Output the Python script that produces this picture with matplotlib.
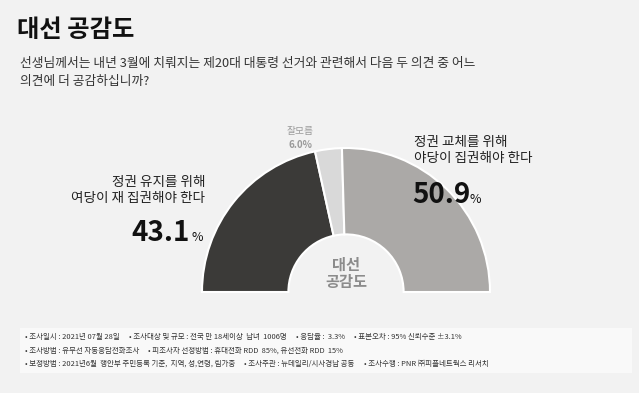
import matplotlib
matplotlib.use("Agg")
import matplotlib.pyplot as plt
from matplotlib.patches import Rectangle

plt.rcParams['font.family'] = ['Noto Sans CJK KR', 'DejaVu Sans']

# data
labels = ['여당 재집권', '잘모름', '야당 집권']
values = [43.1, 6.0, 50.9]
colors_ = ['#3b3a38', '#d9d9d9', '#aba9a7']

title = '대선 공감도'
question = ['선생님께서는 내년 3월에 치뤄지는 제20대 대통령 선거와 관련해서 다음 두 의견 중 어느',
            '의견에 더 공감하십니까?']
left_label = ['정권 유지를 위해', '여당이 재 집권해야 한다']
right_label = ['정권 교체를 위해', '야당이 집권해야 한다']
footer = [
    ['• 조사일시 : 2021년 07월 28일', '• 조사대상 및 규모 : 전국 만 18세이상  남녀  1006명',
     '• 응답율 :  3.3%', '• 표본오차 : 95% 신뢰수준 ±3.1%'],
    ['• 조사방법 : 유무선 자동응답전화조사', '• 피조사자 선정방법 : 휴대전화 RDD  85%, 유선전화 RDD  15%'],
    ['• 보정방법 : 2021년6월  행안부 주민등록 기준,  지역, 성,연령, 림가중',
     '• 조사주관 : 뉴데일리/시사경남 공동', '• 조사수행 : PNR ㈜피플네트웍스 리서치'],
]

W, H = 639, 393
bg = '#f2f2f2'


def P(x, y):
    return x / W, 1 - y / H


fig = plt.figure(figsize=(W / 100, H / 100), dpi=100, facecolor=bg)

# half donut: centre (346, 292), radius 144 px
cx, cy, r = 346, 292, 144
ax = fig.add_axes([(cx - r) / W, (H - cy) / H, 2 * r / W, r / H])
ax.set_facecolor(bg)
total = sum(values)
wedges, _ = ax.pie(values + [total], colors=colors_ + ['none'], startangle=180, counterclock=False,
                   radius=1, wedgeprops=dict(width=0.6, edgecolor='white', linewidth=1.5))
wedges[-1].set_visible(False)
ax.set_xlim(-1, 1)
ax.set_ylim(0, 1)
ax.set_aspect('equal')
ax.axis('off')

# title and question
fig.text(*P(17, 30), title, fontsize=17.5, fontweight='bold', color='#111111', va='center')
fig.text(*P(20, 64), question[0], fontsize=9.2, color='#333333', va='center')
fig.text(*P(20, 82), question[1], fontsize=9.2, color='#333333', va='center')

# labels
fig.text(*P(300, 131), labels[1].replace(' ', ''), fontsize=7, color='#9a9a9a', ha='center', va='center')
fig.text(*P(300, 145), f'{values[1]:.1f}%', fontsize=7, color='#9a9a9a', ha='center', va='center',
         fontweight='bold')

fig.text(*P(414, 142), right_label[0], fontsize=9.8, color='#222222', va='center')
fig.text(*P(414, 158), right_label[1], fontsize=9.8, color='#222222', va='center')
fig.text(*P(412, 203), f'{values[2]:.1f}', fontsize=20, fontweight='bold', color='#111111', va='baseline')
fig.text(*P(470, 203), '%', fontsize=9, color='#111111', va='baseline')

fig.text(*P(205, 182), left_label[0], fontsize=9.8, color='#222222', ha='right', va='center')
fig.text(*P(205, 198), left_label[1], fontsize=9.8, color='#222222', ha='right', va='center')
fig.text(*P(190, 241), f'{values[0]:.1f}', fontsize=20, fontweight='bold', color='#111111',
         ha='right', va='baseline')
fig.text(*P(192, 241), '%', fontsize=9, color='#111111', va='baseline')

fig.text(*P(cx, 265), '대선', fontsize=11, fontweight='bold', color='#8c8c8c', ha='center', va='center')
fig.text(*P(cx, 282), '공감도', fontsize=11, fontweight='bold', color='#8c8c8c', ha='center', va='center')

# footer box
fig.patches.append(Rectangle(P(20, 373), (632 - 20) / W, (373 - 328) / H, transform=fig.transFigure,
                             facecolor='#f9f9f9', edgecolor='none', zorder=0))
renderer = fig.canvas.get_renderer()
for row, yy in zip(footer, [337, 351, 364]):
    xx = 25
    for txt in row:
        t = fig.text(*P(xx, yy), txt, fontsize=5.4, color='#333333', va='center')
        xx += t.get_window_extent(renderer).width + 9

fig.savefig('out.png', dpi=100, facecolor=bg)
